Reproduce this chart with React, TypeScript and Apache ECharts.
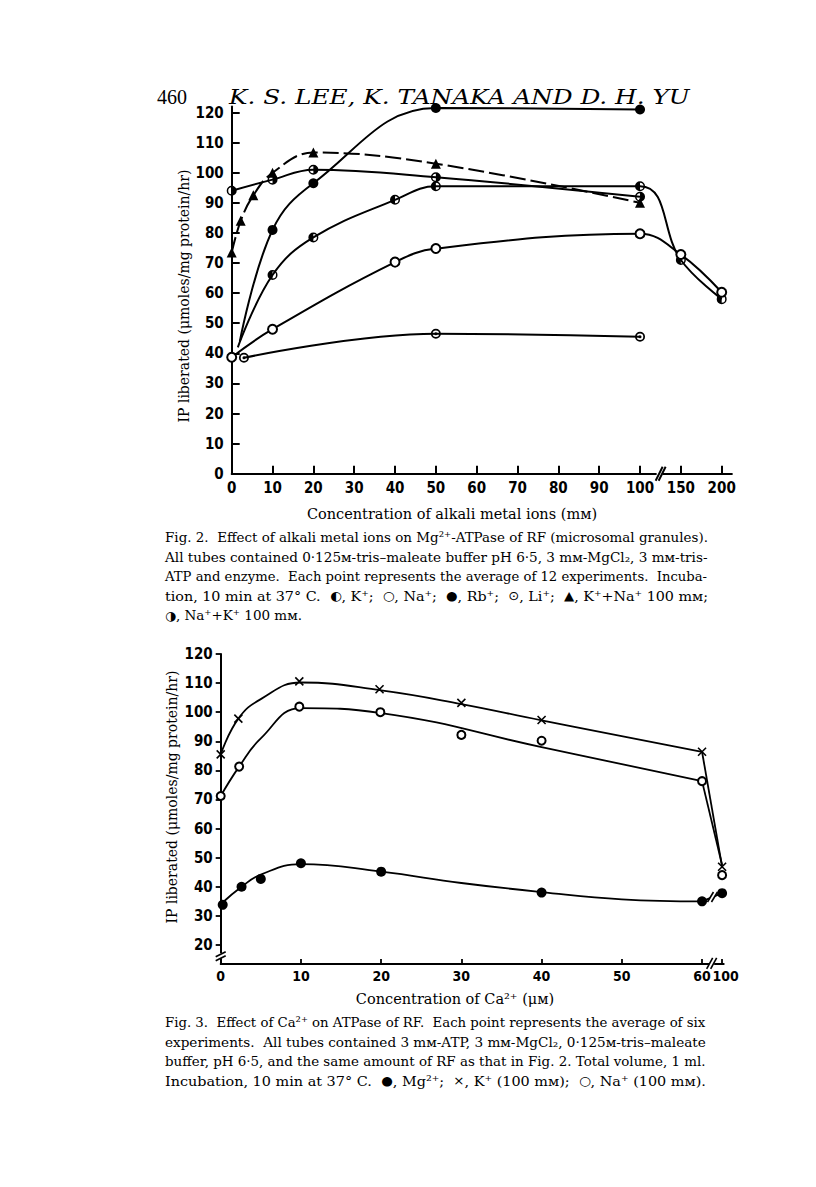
import React, { useEffect, useRef } from 'react';
import * as echarts from 'echarts';

// ---------- Fig. 2 data (concentration mM, IP liberated) ----------
const kX = [1.5, 10, 20, 40, 50, 100, 150, 200];
const kY = [42, 66, 78.5, 91, 95.5, 95.5, 71, 58];
const kMarked = [false, true, true, true, true, true, true, true];

const naX = [0, 10, 40, 50, 100, 150, 200];
const naY = [38.7, 48, 70.3, 74.8, 79.7, 72.8, 60.3];

const rbX = [2, 10, 20, 50, 100];
const rbY = [44, 81, 96.5, 121.5, 121];
const rbMarked = [false, true, true, true, true];

const liX = [3, 50, 100];
const liY = [38.5, 46.5, 45.5];

const kNaX = [0, 2.2, 5.3, 10, 20, 50, 100];
const kNaY = [73.5, 84, 92.5, 100, 106.7, 103, 90];

const naKX = [0, 10, 20, 50, 100];
const naKY = [94, 97.7, 101, 98.5, 92];

const fig2YTicks = [0, 10, 20, 30, 40, 50, 60, 70, 80, 90, 100, 110, 120];
const fig2XTicks = [0, 10, 20, 30, 40, 50, 60, 70, 80, 90, 100, 150, 200];

// ---------- Fig. 3 data (Ca2+ µM, IP liberated) ----------
const mgX = [0.25, 2.6, 5, 10, 20, 40, 60, 100];
const mgY = [33.8, 40, 42.7, 48.1, 45.2, 38, 35, 37.8];
const mgCurveX = [0, 2.6, 5, 10, 20, 30, 40, 50, 60];
const mgCurveY = [34, 40, 44.2, 47.8, 45.2, 41.3, 38.2, 35.7, 35];

const kpX = [0, 2.2, 9.8, 19.8, 30, 40, 60, 100];
const kpY = [85.5, 97.8, 110.6, 107.9, 103.2, 97.3, 86.4, 46.9];
const kpCurveX = [0, 2.2, 5, 10, 20, 30, 40, 60];
const kpCurveY = [85.5, 97.8, 104.5, 110.2, 107.5, 102.8, 97.2, 86.4];

const npX = [0, 2.3, 9.8, 19.9, 30, 40, 60, 100];
const npY = [71.2, 81.3, 101.9, 100, 92.2, 90.2, 76.3, 44];
const npCurveX = [0, 2.3, 5, 10, 20, 40, 60];
const npCurveY = [71.2, 81.3, 91, 101.4, 99.7, 88, 76.3];
const npTailY = 47.5;

const fig3YTicks = [20, 30, 40, 50, 60, 70, 80, 90, 100, 110, 120];
const fig3XTicks = [0, 10, 20, 30, 40, 50, 60, 100];

// ---------- texts ----------
const pageNumber = '460';
const authors = 'K. S. LEE, K. TANAKA AND D. H. YU';
const yTitle = 'IP liberated (μmoles/mg protein/hr)';
const fig2XTitle = 'Concentration of alkali metal ions (mᴍ)';
const fig3XTitle = 'Concentration of Ca²⁺ (μᴍ)';
const fig2Caption = [
  'Fig. 2.  Effect of alkali metal ions on Mg²⁺-ATPase of RF (microsomal granules).',
  'All tubes contained 0·125ᴍ-tris–maleate buffer pH 6·5, 3 mᴍ-MgCl₂, 3 mᴍ-tris-',
  'ATP and enzyme.  Each point represents the average of 12 experiments.  Incuba-',
  'tion, 10 min at 37° C.  {s|◐}, K⁺;  {s|○}, Na⁺;  {s|●}, Rb⁺;  {s|⊙}, Li⁺;  {s|▲}, K⁺+Na⁺ 100 mᴍ;',
  '{s|◑}, Na⁺+K⁺ 100 mᴍ.',
];
const fig2CaptionFull = [true, true, true, true, false];
const fig3Caption = [
  'Fig. 3.  Effect of Ca²⁺ on ATPase of RF.  Each point represents the average of six',
  'experiments.  All tubes contained 3 mᴍ-ATP, 3 mᴍ-MgCl₂, 0·125ᴍ-tris–maleate',
  'buffer, pH 6·5, and the same amount of RF as that in Fig. 2. Total volume, 1 ml.',
  'Incubation, 10 min at 37° C.  {s|●}, Mg²⁺;  {s|×}, K⁺ (100 mᴍ);  {s|○}, Na⁺ (100 mᴍ).',
];
const fig3CaptionFull = [true, true, true, true];

// axis position transforms (broken axes)
const pos2 = (c: number) => (c <= 100 ? c : 100 + (c - 100) / 5);
const pos3 = (c: number) => (c <= 60 ? c : 60 + (c - 60) / 16);

const HALF_LEFT = 'path://M10,0 A10,10 0 1,1 10,20 A10,10 0 1,1 10,0 Z M10,3 L10,17 A7,7 0 0,0 10,3 Z';
const HALF_RIGHT = 'path://M10,0 A10,10 0 1,1 10,20 A10,10 0 1,1 10,0 Z M10,3 A7,7 0 0,0 10,17 L10,3 Z';
const DOT_CIRCLE = 'path://M10,0 A10,10 0 1,1 10,20 A10,10 0 1,1 10,0 Z M10,3.5 A6.5,6.5 0 1,0 10,16.5 A6.5,6.5 0 1,0 10,3.5 Z M10,7 A3,3 0 1,1 10,13 A3,3 0 1,1 10,7 Z';
const CROSS = 'path://M0,0 L10,10 M10,0 L0,10';

const TICK_FONT = '"Liberation Sans Narrow", "DejaVu Sans Condensed", "Liberation Sans", sans-serif';
const SERIF = '"DejaVu Serif", "Liberation Serif", serif';
const SYM = '"DejaVu Sans", sans-serif';

let measureCtx: CanvasRenderingContext2D | null = null;
function measureRich(text: string, size: number, family: string, fontStyle = 'normal') {
  if (!measureCtx) measureCtx = document.createElement('canvas').getContext('2d');
  const ctx = measureCtx!;
  let w = 0;
  const parts = text.split(/(\{s\|[^}]*\})/);
  for (const p of parts) {
    if (!p) continue;
    const m = p.match(/^\{s\|([^}]*)\}$/);
    if (m) {
      ctx.font = `normal normal ${size - 1}px ${SYM}`;
      w += ctx.measureText(m[1]).width;
    } else {
      ctx.font = `${fontStyle} normal ${size}px ${family}`;
      w += ctx.measureText(p).width;
    }
  }
  return w;
}

export default function App() {
  const ref = useRef<HTMLDivElement>(null);
  useEffect(() => {
    if (!ref.current) return;
    const chart = echarts.init(ref.current, null, { renderer: 'svg' });

    const fig2Line = (name: string, xs: number[], ys: number[], symbol: string, size: number, marked?: boolean[], dashed?: boolean) => ({
      name,
      type: 'line',
      xAxisIndex: 0,
      yAxisIndex: 0,
      smooth: 0.4,
      symbol,
      symbolSize: size,
      showSymbol: true,
      lineStyle: { color: '#000', width: 2, type: dashed ? [16, 5] : 'solid' },
      itemStyle: { color: '#000', borderColor: '#000', borderWidth: symbol === 'emptyCircle' ? 1.6 : 0 },
      data: xs.map((x, i) => {
        const item: any = { value: [pos2(x), ys[i]] };
        if (marked && !marked[i]) item.symbol = 'none';
        return item;
      }),
      z: 3,
    });

    const fig3Curve = (xs: number[], ys: number[]) => ({
      type: 'line',
      xAxisIndex: 1,
      yAxisIndex: 1,
      smooth: 0.45,
      symbol: 'none',
      lineStyle: { color: '#000', width: 1.8 },
      data: xs.map((x, i) => [pos3(x), ys[i]]),
      z: 2,
    });
    const fig3Points = (xs: number[], ys: number[], symbol: string, size: number, border: number) => ({
      type: 'scatter',
      xAxisIndex: 1,
      yAxisIndex: 1,
      symbol,
      symbolSize: size,
      itemStyle: { color: '#000', borderColor: '#000', borderWidth: border, opacity: 1 },
      data: xs.map((x, i) => [pos3(x), ys[i]]),
      z: 4,
    });

    const labelStyle = { color: '#000', fontFamily: TICK_FONT, fontWeight: 'bold', fontSize: 15, hideOverlap: false };
    const fig3XPos = fig3XTicks.map(pos3);

    const option: any = {
      animation: false,
      backgroundColor: '#fff',
      grid: [
        { left: 231.7, top: 106.5, width: 500.2, height: 367.2, outerBoundsMode: 'none' },
        { left: 220.7, top: 654, width: 503, height: 309.9, outerBoundsMode: 'none' },
      ],
      xAxis: [
        {
          type: 'value', gridIndex: 0, min: 0, max: 122.5,
          axisLine: { onZero: false, lineStyle: { color: '#000', width: 2 } },
          axisTick: { inside: true, length: 8, lineStyle: { color: '#000', width: 2 }, customValues: fig2XTicks.map(pos2) },
          axisLabel: {
            ...labelStyle, margin: 7, customValues: fig2XTicks.map(pos2),
            formatter: (v: number) => {
              const i = fig2XTicks.map(pos2).findIndex((p) => Math.abs(p - v) < 1e-6);
              return i >= 0 ? String(fig2XTicks[i]) : '';
            },
          },
          splitLine: { show: false },
        },
        {
          type: 'value', gridIndex: 1, min: 0, max: 62.7,
          axisLine: { onZero: false, lineStyle: { color: '#000', width: 2 } },
          axisTick: { inside: true, length: 5, lineStyle: { color: '#000', width: 1.8 }, customValues: fig3XPos },
          axisLabel: {
            ...labelStyle, fontSize: 14, margin: 5, customValues: fig3XPos.slice(0, -1),
            formatter: (v: number) => {
              const i = fig3XPos.findIndex((p) => Math.abs(p - v) < 1e-6);
              return i >= 0 ? String(fig3XTicks[i]) : '';
            },
          },
          splitLine: { show: false },
        },
      ],
      yAxis: [
        {
          type: 'value', gridIndex: 0, min: 0, max: 122,
          axisLine: { show: true, onZero: false, lineStyle: { color: '#000', width: 2 } },
          axisTick: { show: true, inside: true, length: 8, lineStyle: { color: '#000', width: 2 }, customValues: fig2YTicks },
          axisLabel: { ...labelStyle, margin: 8, customValues: fig2YTicks },
          splitLine: { show: false },
        },
        {
          type: 'value', gridIndex: 1, min: 13.5, max: 120,
          axisLine: { show: true, onZero: false, lineStyle: { color: '#000', width: 2 } },
          axisTick: { show: true, inside: false, length: 5, lineStyle: { color: '#000', width: 1.8 }, customValues: fig3YTicks },
          axisLabel: { ...labelStyle, margin: 8, customValues: fig3YTicks },
          splitLine: { show: false },
        },
      ],
      series: [
        fig2Line('K+', kX, kY, HALF_LEFT, 10, kMarked),
        fig2Line('Na+', naX, naY, 'emptyCircle', 9),
        fig2Line('Rb+', rbX, rbY, 'circle', 10, rbMarked),
        fig2Line('Li+', liX, liY, DOT_CIRCLE, 10),
        fig2Line('K+ + Na+ 100 mM', kNaX, kNaY, 'triangle', 10, undefined, true),
        fig2Line('Na+ + K+ 100 mM', naKX, naKY, HALF_RIGHT, 10),
        // Fig. 3 curves
        fig3Curve(mgCurveX, mgCurveY),
        fig3Curve([60, 100], [mgY[6], mgY[7]]),
        fig3Curve(kpCurveX, kpCurveY),
        fig3Curve([60, 100], [kpY[6], kpY[7]]),
        fig3Curve(npCurveX, npCurveY),
        fig3Curve([60, 100], [npY[6], npTailY]),
        fig3Points(mgX, mgY, 'circle', 10, 0),
        fig3Points(kpX, kpY, CROSS, 8, 1.6),
        fig3Points(npX, npY, 'emptyCircle', 8, 1.6),
      ],
    };
    chart.setOption(option);

    const p2 = (x: number, y: number) => chart.convertToPixel({ xAxisIndex: 0, yAxisIndex: 0 }, [x, y]) as number[];
    const p3 = (x: number, y: number) => chart.convertToPixel({ xAxisIndex: 1, yAxisIndex: 1 }, [x, y]) as number[];

    const txt = (text: string, x: number, y: number, size: number, extra: any = {}) => ({
      type: 'text', x, y, z: 10,
      rotation: extra.rotation || 0,
      scaleX: extra.scaleX || 1,
      style: {
        text, fill: '#000', fontSize: size, fontFamily: extra.fontFamily || SERIF,
        fontStyle: extra.fontStyle || 'normal', fontWeight: extra.fontWeight || 'normal',
        align: extra.align || 'left', verticalAlign: extra.verticalAlign || 'middle',
        rich: { s: { fontFamily: SYM, fontSize: size - 1, fill: '#000' } },
      },
    });
    const fitLine = (text: string, x: number, y: number, size: number, width: number, full: boolean, extra: any = {}) => {
      const w = measureRich(text, size, extra.fontFamily || SERIF, extra.fontStyle || 'normal');
      const s = full && w > 0 ? width / w : 1;
      return txt(text, x, y, size, { ...extra, scaleX: s });
    };
    const seg = (a: number[], b: number[], w = 2) => ({
      type: 'line', z: 10, shape: { x1: a[0], y1: a[1], x2: b[0], y2: b[1] },
      style: { stroke: '#000', lineWidth: w },
    });
    const gap = (c: number[], w: number, h: number) => ({
      type: 'rect', z: 9, shape: { x: c[0] - w / 2, y: c[1] - h / 2, width: w, height: h },
      style: { fill: '#fff' },
    });

    const b2 = p2(104.8, 0);
    const b3x = p3(61.2, 13.5);
    const b3y = p3(0, 16.3);
    const bMg = p3(61.3, 36.5);
    const last3 = p3(fig3XPos[fig3XPos.length - 1], 13.5);

    const graphic: any[] = [
      txt(pageNumber, 157, 97, 20, { fontFamily: '"Liberation Serif", serif' }),
      fitLine(authors, 229, 97, 21, 461, true, { fontStyle: 'italic' }),
      txt(yTitle, 184, 296, 14, { rotation: Math.PI / 2, align: 'center' }),
      txt(fig2XTitle, 452, 514, 14.5, { align: 'center' }),
      txt(yTitle, 172, 797, 14, { rotation: Math.PI / 2, align: 'center' }),
      txt(fig3XTitle, 455, 999, 14.5, { align: 'center' }),
      ...fig2Caption.map((t, i) => fitLine(t, 165, 537 + i * 19.6, 13.5, 543, fig2CaptionFull[i])),
      ...fig3Caption.map((t, i) => fitLine(t, 165, 1022 + i * 19.6, 13.5, 541, fig3CaptionFull[i])),
      txt(String(fig3XTicks[fig3XTicks.length - 1]), last3[0] + 3.5, last3[1] + 5, 14, {
        fontFamily: TICK_FONT, fontWeight: 'bold', align: 'center', verticalAlign: 'top',
      }),
      // axis break marks
      gap(b2, 6, 6),
      seg([b2[0] - 4, b2[1] + 7], [b2[0] + 3, b2[1] - 7], 2),
      seg([b2[0] - 1, b2[1] + 7], [b2[0] + 6, b2[1] - 7], 2),
      gap(b3x, 5, 5),
      seg([b3x[0] - 5, b3x[1] + 5], [b3x[0] + 1, b3x[1] - 6], 1.6),
      seg([b3x[0] - 1, b3x[1] + 5], [b3x[0] + 5, b3x[1] - 6], 1.6),
      gap(b3y, 5, 5),
      seg([b3y[0] - 5, b3y[1] + 1], [b3y[0] + 5, b3y[1] - 4], 1.6),
      seg([b3y[0] - 5, b3y[1] + 5], [b3y[0] + 5, b3y[1]], 1.6),
      gap(bMg, 5, 5),
      seg([bMg[0] - 5, bMg[1] + 5], [bMg[0] + 1, bMg[1] - 5], 1.6),
      seg([bMg[0] - 1, bMg[1] + 5], [bMg[0] + 5, bMg[1] - 5], 1.6),
    ];
    chart.setOption({ graphic });

    return () => chart.dispose();
  }, []);

  return <div ref={ref} style={{ position: 'absolute', left: 0, top: 0, width: 816, height: 1187, background: '#fff' }} />;
}
